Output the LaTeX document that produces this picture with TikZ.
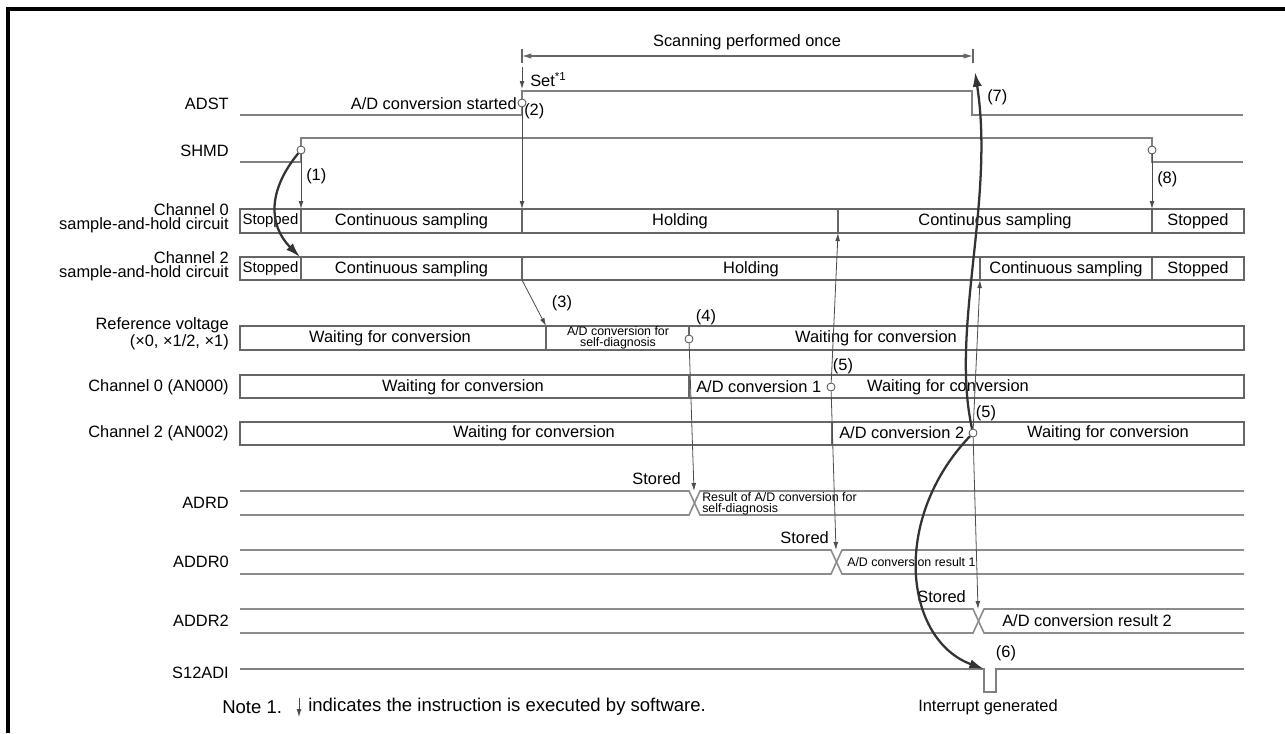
\documentclass[tikz,border=0pt]{standalone}
\usepackage{fontspec}
\setmainfont{Liberation Sans}
\usetikzlibrary{arrows.meta,positioning}

\begin{document}
\begin{tikzpicture}[x=0.75pt, y=-0.75pt, font=\fontsize{12.3}{13}\selectfont, every node/.style={inner sep=0pt}]
\tikzstyle{lbl}=[anchor=east, align=right, font=\fontsize{12.3}{10.5}\selectfont]
\tikzstyle{cell}=[draw=black!60, line width=0.9pt]
\tikzstyle{wave}=[draw=black!50, line width=1.2pt]
\tikzstyle{small}=[align=center, font=\fontsize{9.3}{8.6}\selectfont]
\tikzstyle{notefont}=[font=\fontsize{13.9}{15}\selectfont]
\tikzstyle{dot}=[circle, draw=black!70, fill=white, line width=0.6pt, minimum size=6pt]
\tikzstyle{arr}=[draw=black!70, line width=0.6pt, -{Latex[length=6pt,width=3.6pt]}]
\tikzstyle{bigarr}=[draw=black!80, line width=1.7pt, -{Latex[length=11pt,width=7pt]}]
\useasboundingbox (0,0) rectangle (1285,733);
\draw[line width=3.2pt] (8,733) -- (8,9) -- (1285,9);

% scanning period
\node (scan) at (747,42) {Scanning performed once};
\coordinate (sc1) at (522,56); \coordinate (sc2) at (973,56);
\draw[black!60, line width=0.8pt, {Latex[length=7pt,width=4pt]}-{Latex[length=7pt,width=4pt]}] (sc1) -- (sc2);
\draw[black!60, line width=0.8pt] (522,49) -- (522,63) (973,49) -- (973,63);

% signal names
\node[lbl] (l1) at (229,104) {ADST};
\node[lbl] (l2) at (229,151) {SHMD};
\node[lbl] (l3) at (229,218) {Channel 0\\sample-and-hold circuit};
\node[lbl] (l4) at (229,266) {Channel 2\\sample-and-hold circuit};
\node[lbl] (l5) at (229,334) {Reference voltage\\(×0, ×1/2, ×1)};
\node[lbl] (l6) at (229,387) {Channel 0 (AN000)};
\node[lbl] (l7) at (229,433) {Channel 2 (AN002)};
\node[lbl] (l8) at (229,503) {ADRD};
\node[lbl] (l9) at (229,562) {ADDR0};
\node[lbl] (l10) at (229,621) {ADDR2};
\node[lbl] (l11) at (229,673) {S12ADI};

% ADST and SHMD
\draw[wave] (240,115) -- (522,115) -- (522,91) -- (972,91) -- (972,115) -- (1243,115);
\draw[wave] (240,162) -- (301,162) -- (301,138) -- (1152,138) -- (1152,162) -- (1243,162);
\node (set) [anchor=west] at (530,80) {Set\textsuperscript{*1}};
\node (start) [anchor=east] at (517,104) {A/D conversion started};

% sample-and-hold rows
\draw[cell] (240,209) rectangle (1244,233);
\foreach \x in {301,522,838,1152} \draw[cell] (\x,209) -- (\x,233);
\draw[cell] (240,257) rectangle (1244,280);
\foreach \x in {301,522,980,1152} \draw[cell] (\x,257) -- (\x,280);
\node[font=\fontsize{11.2}{12}\selectfont] (a1) at (270.5,221) {Stopped};
\node (a2) at (411.5,221) {Continuous sampling};
\node (a3) at (680,221) {Holding};
\node (a4) at (995,221) {Continuous sampling};
\node (a5) at (1198,221) {Stopped};
\node[font=\fontsize{11.2}{12}\selectfont] (b1) at (270.5,269) {Stopped};
\node (b2) at (411.5,269) {Continuous sampling};
\node (b3) at (751,269) {Holding};
\node (b4) at (1066,269) {Continuous sampling};
\node (b5) at (1198,269) {Stopped};

% conversion rows
\draw[cell] (240,326) rectangle (1244,350);
\draw[cell] (546,326) -- (546,350);
\draw[cell] (240,375) rectangle (1244,398);
\draw[cell] (689,375) -- (689,398);
\draw[cell] (240,422) rectangle (1244,445);
\draw[cell] (832,422) -- (832,445);
\node (r1) at (390,338) {Waiting for conversion};
\node[small] (r2) at (618,338) {A/D conversion for\\self-diagnosis};
\node (r3) at (876,338) {Waiting for conversion};
\node (p1) at (463,387) {Waiting for conversion};
\node (p2) [anchor=west] at (696,387) {A/D conversion 1};
\node (p3) at (948,387) {Waiting for conversion};
\node (q1) at (534,433) {Waiting for conversion};
\node (q2) [anchor=west] at (839,433) {A/D conversion 2};
\node (q3) at (1108,433) {Waiting for conversion};

% result registers
\foreach \y/\x in {491/689,550/831,609/973}{
  \draw[wave, black!45] (240,\y) -- (\x,\y) -- ({\x+11},{\y+24}) -- (1244,{\y+24});
  \draw[wave, black!45] (240,{\y+24}) -- (\x,{\y+24}) -- ({\x+11},\y) -- (1244,\y);}
\draw[wave] (240,669) -- (984,669) -- (984,692) -- (996,692) -- (996,669) -- (1244,669);
\node (st1) [anchor=east] at (681,479) {Stored};
\node (st2) [anchor=east] at (829,538) {Stored};
\node (st3) [anchor=east] at (966,597) {Stored};
\node[small, align=left, anchor=west] (res0) at (702,504) {Result of A/D conversion for\\self-diagnosis};
\node[small, anchor=west] (res1) at (847,562) {A/D conversion result 1};
\node (res2) [anchor=west] at (1002,621) {A/D conversion result 2};
\node (irq) at (988,707) {Interrupt generated};

% numbered events
\node (n1) [anchor=west] at (306,176) {(1)};
\node (n2) [anchor=west] at (524,111) {(2)};
\node (n3) at (562,303) {(3)};
\node (n4) at (706,317) {(4)};
\node (n5) at (843,366) {(5)};
\node (n5b) at (986,413) {(5)};
\node (n6) at (1006,653) {(6)};
\node (n7) [anchor=west] at (987,97) {(7)};
\node (n8) [anchor=west] at (1157,179) {(8)};

\node[dot] (c1) at (301,150) {};
\node[dot] (c2) at (522,103) {};
\node[dot] (c4) at (689,339) {};
\node[dot] (c5) at (831,387) {};
\node[dot] (c6) at (973,433) {};
\node[dot] (c8) at (1152,150) {};
\draw[cell] (689,326) -- (c4.north);

\coordinate (s1) at (522,67); \coordinate (s2) at (522,89);
\coordinate (t1) at (301,209); \coordinate (t1b) at (300,257);
\coordinate (t2) at (522,209);
\coordinate (f3) at (522,280); \coordinate (t3) at (546,326);
\coordinate (t4) at (694,491);
\coordinate (u5) at (838,233); \coordinate (d5) at (836,550);
\coordinate (u6) at (980,280); \coordinate (d6) at (978,609);
\coordinate (t6) at (984,669); \coordinate (t7) at (975,72);
\coordinate (t8) at (1152,209);
\foreach \a/\b in {s1/s2,c1/t1,c2/t2,f3/t3,c4/t4,c5/u5,c5/d5,c6/u6,c6/d6,c8/t8}{\draw[arr] (\a) -- (\b);}
\draw[bigarr] (c1) .. controls (268,190) and (268,225) .. (t1b);
\draw[bigarr] (c6) .. controls (890,520) and (905,640) .. (t6);
\draw[bigarr] (c6) .. controls (950,330) and (995,200) .. (t7);

% note
\node[notefont] (note) [anchor=west] at (222,707) {Note 1.};
\coordinate (nt1) at (299,698); \coordinate (nt2) at (299,717);
\draw[arr] (nt1) -- (nt2);
\node[notefont] (notetxt) [anchor=west] at (308,707) {indicates the instruction is executed by software.};
\end{tikzpicture}
\end{document}
